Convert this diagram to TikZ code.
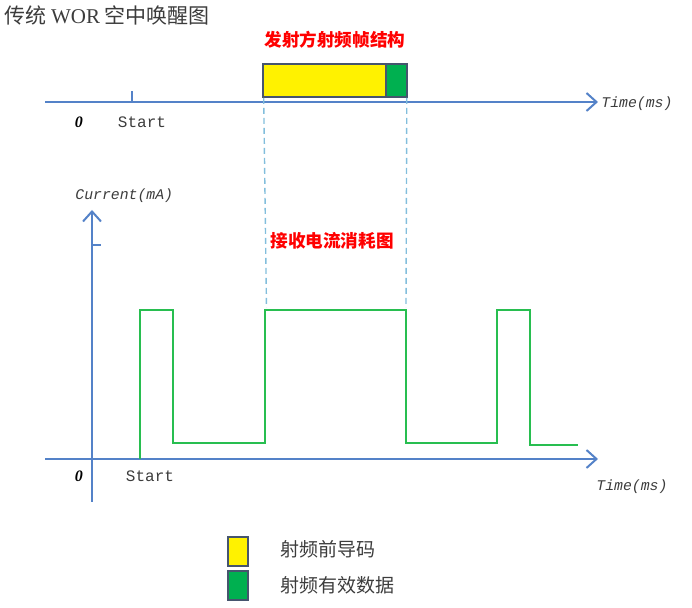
\documentclass[tikz,border=0pt]{standalone}
\usepackage{fontspec}
\setmainfont{Liberation Serif}
\setmonofont{Liberation Mono}
\newfontfamily\cjk{Noto Sans CJK SC}
\usetikzlibrary{arrows.meta,positioning}
\definecolor{axisblue}{RGB}{84,130,200}
\definecolor{guideblue}{RGB}{130,190,220}
\definecolor{wavegreen}{RGB}{40,190,80}
\definecolor{fillgreen}{RGB}{0,176,80}
\definecolor{framegray}{RGB}{70,85,110}
\definecolor{textgray}{RGB}{60,60,60}
\begin{document}
\begin{tikzpicture}[x=0.5pt, y=-0.5pt,
    axis/.style={draw=axisblue, line width=1pt, -{Straight Barb[length=5pt,width=9pt]}},
    wave/.style={draw=wavegreen, line width=1pt},
    guide/.style={draw=guideblue, line width=0.7pt, dash pattern=on 3pt off 2pt},
    frame/.style={draw=framegray, line width=0.8pt, inner sep=0pt, minimum height=16.5pt},
    redtitle/.style={text=red, font=\cjk\bfseries\fontsize{8.8}{10}\selectfont},
    timelbl/.style={text=textgray, font=\ttfamily\itshape\fontsize{7.4}{9}\selectfont, inner sep=0pt},
    startlbl/.style={text=textgray, font=\ttfamily\fontsize{8}{9}\selectfont, inner sep=0pt},
    zerolbl/.style={font=\bfseries\itshape\fontsize{8}{9}\selectfont, inner sep=0pt},
    legtext/.style={text=textgray, font=\cjk\fontsize{9.5}{11}\selectfont, anchor=west, inner sep=0pt}]
    \useasboundingbox (0,0) rectangle (692,608);

    % Titel
    \node[anchor=west, inner sep=0pt, text=textgray, font=\cjk\fontsize{10.5}{12}\selectfont] (title) at (4,15) {传统 {\rmfamily WOR} 空中唤醒图};
    \node[redtitle] (txtitle) at (335,40) {发射方射频帧结构};

    % Frame
    \node[frame, fill=yellow, minimum width=61.5pt] (pre) at (324.5,80.5) {};
    \node[frame, fill=fillgreen, minimum width=10.5pt] (data) at (396.5,80.5) {};

    % Oben: Zeitachse
    \coordinate (ta) at (45,102);
    \coordinate (tb) at (598,102);
    \draw[axis] (ta) -- (tb);
    \node[timelbl, anchor=west] (time1) at (601,104) {Time(ms)};
    \coordinate (st1) at (132,102);
    \draw[draw=axisblue, line width=0.6pt] (st1) -- ++(0,-11);
    \node[startlbl] (start1) at (142,122) {Start};
    \node[zerolbl] (zero1) at (79,122) {0};

    % Unten: Achsen
    \coordinate (o) at (92,459);
    \coordinate (xa) at (45,459);
    \coordinate (xb) at (598,459);
    \coordinate (ya) at (92,502);
    \coordinate (yb) at (92,210);
    \draw[axis] (xa) -- (xb);
    \draw[axis] (ya) -- (yb);
    \draw[draw=axisblue, line width=0.6pt] (92,245) -- (101,245);
    \node[timelbl, anchor=west] (cur) at (75,196) {Current(mA)};
    \node[timelbl, anchor=west] (time2) at (596,487) {Time(ms)};
    \node[startlbl] (start2) at (150,476) {Start};
    \node[zerolbl] (zero2) at (79,476) {0};

    % Strom
    \draw[wave] (140,459) -- (140,310) -- (173,310) -- (173,443) -- (265,443) -- (265,310)
      -- (406,310) -- (406,443) -- (497,443) -- (497,310) -- (530,310) -- (530,445) -- (578,445);
    \node[redtitle] (rxtitle) at (332,241) {接收电流消耗图};

    % Hilfslinien
    \draw[guide] (pre.south west) ++(1.5,0) -- (266.5,308);
    \draw[guide] (data.south east) ++(-1,0) -- (406,308);

    % Legende
    \node[frame, fill=yellow, minimum width=10pt, minimum height=14.5pt] (kpre) at (238,551.5) {};
    \node[frame, fill=fillgreen, minimum width=10pt, minimum height=14.5pt] (kdata) at (238,585.5) {};
    \node[legtext] (lpre) at (280,549) {射频前导码};
    \node[legtext] (ldata) at (280,585) {射频有效数据};
\end{tikzpicture}
\end{document}
